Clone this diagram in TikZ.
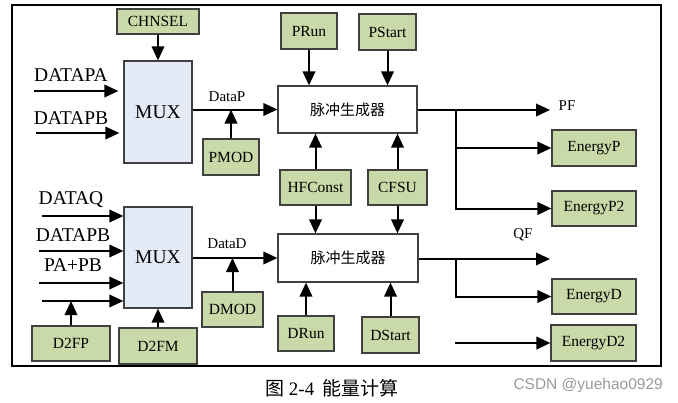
\documentclass[tikz,border=0pt]{standalone}
\usepackage{fontspec}
\setmainfont{Liberation Serif}
\newfontfamily\cjk{Noto Sans CJK SC}
\newfontfamily\wmfont{Liberation Sans}
\usetikzlibrary{arrows.meta}
\definecolor{gfill}{HTML}{C9DAA8}
\definecolor{bfill}{HTML}{E4EAF6}
\definecolor{bord}{HTML}{404040}
\begin{document}
\begin{tikzpicture}[x=1pt,y=-1pt,
  boxbase/.style={draw=bord, line width=1.2pt, inner sep=0pt, font=\fontsize{15.5}{18}\selectfont},
  gbox/.style={boxbase, fill=gfill},
  muxbox/.style={boxbase, fill=bfill, font=\fontsize{19.5}{22}\selectfont},
  pgen/.style={boxbase, fill=white, font=\cjk\fontsize{15}{18}\selectfont},
  inlabel/.style={inner sep=0pt, font=\fontsize{19.5}{22}\selectfont},
  siglabel/.style={inner sep=0pt, font=\fontsize{15}{18}\selectfont},
  arr/.style={line width=2pt, -{Triangle[length=14pt,width=12.5pt]}},
]
\useasboundingbox (0,0) rectangle (678,402);
\draw[line width=1.3pt] (12,5) rectangle (661,366);

% top half
\node[gbox, minimum width=82, minimum height=25] (chnsel) at (158,21.5) {CHNSEL};
\node[muxbox, minimum width=68, minimum height=102] (mux1) at (158,112) {MUX};
\node[gbox, minimum width=56, minimum height=36] (prun) at (309,31) {PRun};
\node[gbox, minimum width=57, minimum height=36] (pstart) at (387.5,32) {PStart};
\node[pgen, minimum width=139, minimum height=47] (p1) at (347.5,109.5) {脉冲生成器};
\node[gbox, minimum width=56, minimum height=36] (pmod) at (231,157) {PMOD};
\node[gbox, minimum width=71, minimum height=35] (hfc) at (315.5,187.5) {HFConst};
\node[gbox, minimum width=59, minimum height=35] (cfsu) at (397.5,187.5) {CFSU};
\node[gbox, minimum width=84, minimum height=36] (ep) at (594,148) {EnergyP};
\node[gbox, minimum width=84, minimum height=35] (ep2) at (594,208.5) {EnergyP2};

% bottom half
\node[muxbox, minimum width=68, minimum height=101] (mux2) at (158,257.5) {MUX};
\node[pgen, minimum width=140, minimum height=48] (p2) at (348,258) {脉冲生成器};
\node[gbox, minimum width=61, minimum height=35] (dmod) at (232.5,309.5) {DMOD};
\node[gbox, minimum width=56, minimum height=35] (drun) at (306,333.5) {DRun};
\node[gbox, minimum width=57, minimum height=36] (dstart) at (390.5,335) {DStart};
\node[gbox, minimum width=78, minimum height=35] (d2fp) at (71,343.5) {D2FP};
\node[gbox, minimum width=78, minimum height=36] (d2fm) at (158,346) {D2FM};
\node[gbox, minimum width=84, minimum height=35] (ed) at (594,296.5) {EnergyD};
\node[gbox, minimum width=85, minimum height=36] (ed2) at (593.5,343) {EnergyD2};

% labels
\node[inlabel] (lpa) at (71,75) {DATAPA};
\node[inlabel] (lpb) at (71,118) {DATAPB};
\node[inlabel] (lq) at (71,200) {DATAQ};
\node[inlabel] (lpb2) at (73,235) {DATAPB};
\node[inlabel] (lpapb) at (73,265) {PA+PB};
\node[siglabel] (ldp) at (227,97) {DataP};
\node[siglabel] (ldd) at (227,244) {DataD};
\node[siglabel] (lpf) at (567,106) {PF};
\node[siglabel] (lqf) at (523,235) {QF};

% coordinates
\coordinate (in1) at (34,91);
\coordinate (in2) at (36,133);
\coordinate (in3) at (42,216);
\coordinate (in4) at (39,251);
\coordinate (in5) at (39,283);
\coordinate (in6) at (42,301);
\coordinate (b1) at (456,110);
\coordinate (pfend) at (550,110);
\coordinate (qfend) at (550,259);
\coordinate (ed2s) at (455,343);

% connectors top
\draw[arr] (chnsel) -- (mux1);
\draw[arr, shorten >=5pt] (in1) -- (in1 -| mux1.west);
\draw[arr, shorten >=4pt] (in2) -- (in2 -| mux1.west);
\draw[arr] (mux1.east |- p1.west) -- (p1.west);
\draw[arr] (pmod.north) -- (pmod.north |- p1.west);
\draw[arr] (prun.south) -- (prun.south |- p1.north);
\draw[arr] (pstart.south) -- (pstart.south |- p1.north);
\draw[arr] (hfc.north) -- (hfc.north |- p1.south);
\draw[arr] (cfsu.north) -- (cfsu.north |- p1.south);
\draw[arr] (hfc.south) -- (hfc.south |- p2.north);
\draw[arr] (cfsu.south) -- (cfsu.south |- p2.north);
\draw[arr] (p1.east |- pfend) -- (pfend);
\draw[arr] (b1) -- (b1 |- ep2.west) -- (ep2.west);
\draw[arr] (b1 |- ep.west) -- (ep.west);

% connectors bottom
\draw[arr] (in3) -- (in3 -| mux2.west);
\draw[arr] (in4) -- (in4 -| mux2.west);
\draw[arr] (in5) -- (in5 -| mux2.west);
\draw[arr] (in6) -- (in6 -| mux2.west);
\draw[arr] (d2fp.north) -- (d2fp.north |- in6);
\draw[arr] (d2fm.north) -- (mux2.south);
\draw[arr] (mux2.east |- p2.west) -- (p2.west);
\draw[arr] (dmod.north) -- (dmod.north |- p2.west);
\draw[arr] (drun.north) -- (drun.north |- p2.south);
\draw[arr] (dstart.north) -- (dstart.north |- p2.south);
\draw[arr] (p2.east |- qfend) -- (qfend);
\draw[arr] (b1 |- qfend) -- (b1 |- ed.west) -- (ed.west);
\draw[arr] (ed2s) -- (ed2.west);

% caption and watermark
\node[anchor=west, inner sep=0pt, font=\fontsize{19}{22}\selectfont] (cap) at (265,388) {{\cjk 图} 2-4\hspace{8pt}{\cjk 能量计算}};
\node[anchor=east, inner sep=0pt, text=black!40, font=\wmfont\fontsize{15.5}{18}\selectfont] (wm) at (663,385) {CSDN @yuehao0929};
\end{tikzpicture}
\end{document}
